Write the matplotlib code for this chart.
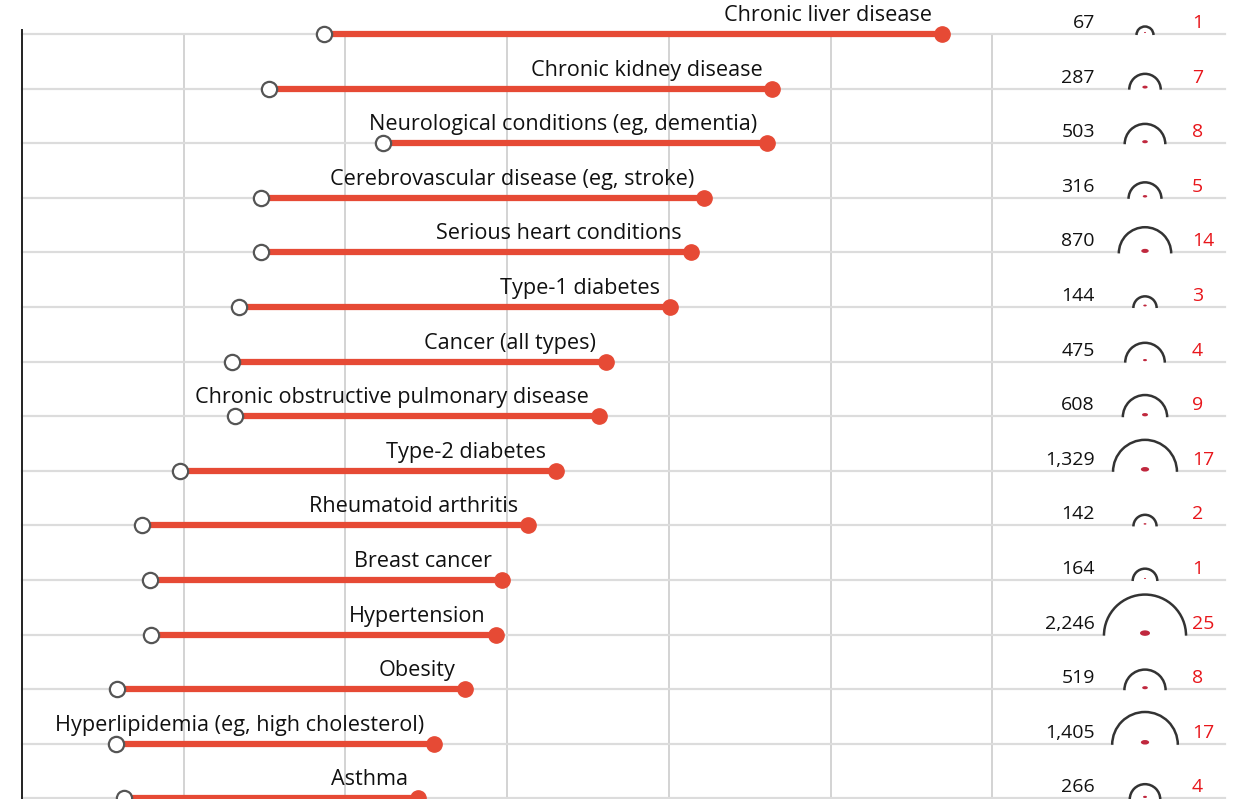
import matplotlib.pyplot as plt
import matplotlib.patches as patches
import numpy as np

# --- data ---
conditions = [
    "Chronic liver disease",
    "Chronic kidney disease",
    "Neurological conditions (eg, dementia)",
    "Cerebrovascular disease (eg, stroke)",
    "Serious heart conditions",
    "Type-1 diabetes",
    "Cancer (all types)",
    "Chronic obstructive pulmonary disease",
    "Type-2 diabetes",
    "Rheumatoid arthritis",
    "Breast cancer",
    "Hypertension",
    "Obesity",
    "Hyperlipidemia (eg, high cholesterol)",
    "Asthma",
]
start_vals = [18.7, 15.3, 22.3, 14.8, 14.8, 13.4, 13.0, 13.2, 9.8, 7.4, 7.9, 8.0, 5.9, 5.8, 6.3]
end_vals = [56.9, 46.4, 46.1, 42.2, 41.4, 40.1, 36.1, 35.7, 33.0, 31.3, 29.7, 29.3, 27.4, 25.5, 24.5]
totals = [67, 287, 503, 316, 870, 144, 475, 608, 1329, 142, 164, 2246, 519, 1405, 266]
red_counts = [1, 7, 8, 5, 14, 3, 4, 9, 17, 2, 1, 25, 8, 17, 4]
grid_x = [10, 20, 30, 40, 50, 60]

RED = "#e64a35"
DOT = "#c0283e"

W, H = 1241, 799
PX_X = 16.17      # pixels per x unit
PX_Y = 54.6       # pixels per row
X0_PX, Y0_PX = 22, 34

fig = plt.figure(figsize=(W / 100, H / 100), dpi=100)
ax = fig.add_axes([0, 0, 1, 1])
ax.set_xlim(-X0_PX / PX_X, (W - X0_PX) / PX_X)
ax.set_ylim((H - Y0_PX) / PX_Y, -Y0_PX / PX_Y)
ax.axis("off")

font = "Open Sans"
n = len(conditions)
rows = np.arange(n)
x_num = (1095 - X0_PX) / PX_X
x_arc = (1145 - X0_PX) / PX_X
x_red = (1192 - X0_PX) / PX_X
x_end = (1225 - X0_PX) / PX_X

# grid
for g in grid_x:
    ax.plot([g, g], [0, 20], color="#d0d0d0", lw=1.3, zorder=0)
for r in rows:
    ax.plot([0, x_end], [r, r], color="#dcdcdc", lw=1.6, zorder=0)
ax.plot([0, 0], [-0.07, 20], color="#222222", lw=1.4, zorder=1)

# dumbbells
for r, s, e, lab in zip(rows, start_vals, end_vals, conditions):
    ax.plot([s, e], [r, r], color=RED, lw=4.5, solid_capstyle="butt", zorder=2)
    ax.plot(e, r, "o", color=RED, ms=11, zorder=3)
    ax.plot(s, r, "o", mfc="white", mec="#555555", mew=1.6, ms=11, zorder=3)
    ax.text(e - 10 / PX_X, r - 13 / PX_Y, lab, ha="right", va="baseline",
            fontsize=15.6, family=font, color="#111111")

# right-hand columns
for r, t, k in zip(rows, totals, red_counts):
    ax.text(x_num, r - 6 / PX_Y, f"{t:,}", ha="right", va="baseline",
            fontsize=14, family=font, color="#111111")
    ax.text(x_red, r - 6 / PX_Y, str(k), ha="left", va="baseline",
            fontsize=14, family=font, color="#e8161b")
    rad = 0.83 * np.sqrt(t) + 1.7
    # white disc hides the gridline inside the semicircle
    ax.add_patch(patches.Ellipse((x_arc, r), 2 * (rad - 1) / PX_X, 2 * (rad - 1) / PX_Y,
                                 facecolor="white", lw=0, zorder=1.5))
    arc = patches.Arc((x_arc, r + 1 / PX_Y), 2 * rad / PX_X, 2 * rad / PX_Y,
                      theta1=180, theta2=360, color="#333333", lw=1.8, zorder=3)
    ax.add_patch(arc)
    rd = 1.0 * np.sqrt(k)
    dot = patches.Ellipse((x_arc, r - 1.5 / PX_Y), 2 * rd / PX_X, 1.1 * rd / PX_Y,
                          color=DOT, lw=0, zorder=3)
    ax.add_patch(dot)

fig.savefig("out.png", dpi=100)
